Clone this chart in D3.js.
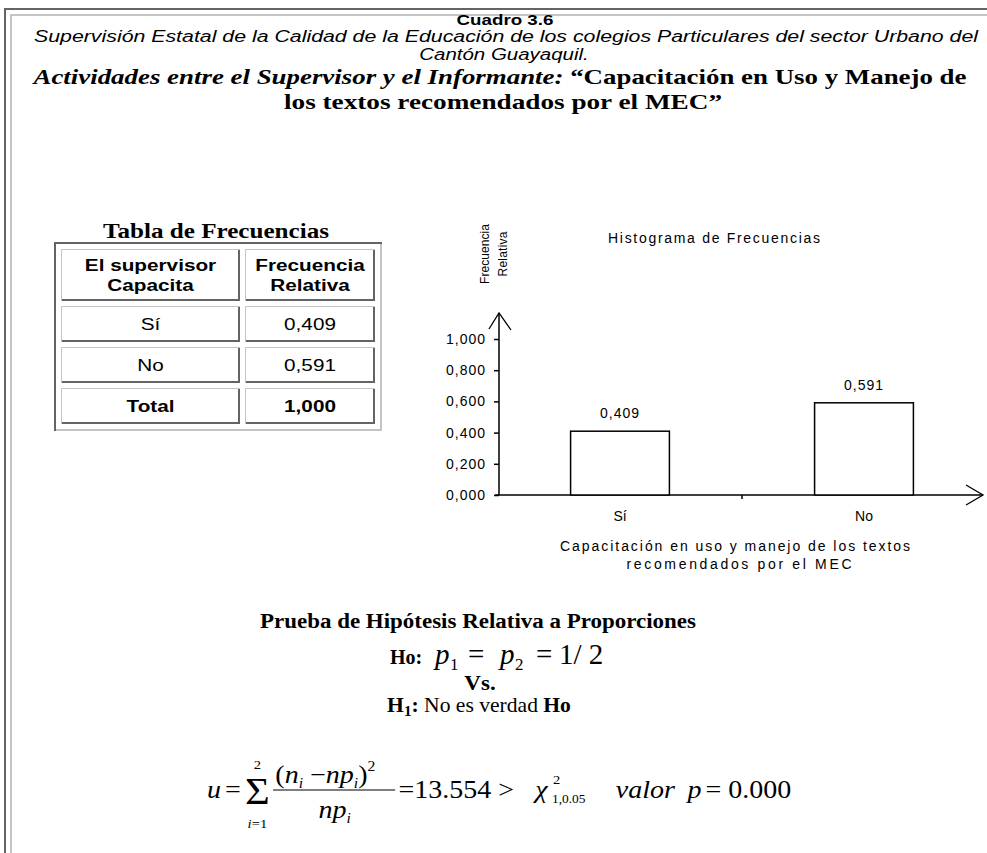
<!DOCTYPE html>
<html>
<head>
<meta charset="utf-8">
<script src="https://cdn.jsdelivr.net/npm/d3@7"></script>
<style>
  html, body { margin: 0; padding: 0; background: #fff; }
  svg { display: block; }
  .sans { font-family: "Liberation Sans", Arial, sans-serif; }
  .serif { font-family: "Liberation Serif", "Times New Roman", serif; }
</style>
</head>
<body>
<svg id="page" width="987" height="853"></svg>
<script>
// data
const categories = ["Sí", "No"];
const relFreq = [0.409, 0.591];
const totalFreq = 1.0;
const yTicks = [0, 0.2, 0.4, 0.6, 0.8, 1.0];
const headerLines = [["El supervisor", "Capacita"], ["Frecuencia", "Relativa"]];
const totalLabel = "Total";
const chartTitle = "Histograma de Frecuencias";
const yTitle = ["Frecuencia", "Relativa"];
const xTitle = ["Capacitación en uso y manejo de los textos", "recomendados por el MEC"];

const es = d3.formatLocale({decimal: ",", thousands: ".", grouping: [3], currency: ["", ""]});
const fmt = es.format(".3f");

const svg = d3.select("#page");
const dark = "#646464", light = "#c4c4c4";

// text that is wider than the font draws it (the source picture is stretched sideways)
function wide(parent, cls, x, y, size, k, anchor) {
  return parent.append("text").attr("class", cls)
      .attr("transform", `translate(${x},${y})scale(${k},1)`)
      .attr("text-anchor", anchor || "middle")
      .style("font-size", size + "px");
}

// page frame
svg.append("path").attr("d", "M5,853V9H987").attr("fill", "none").attr("stroke", dark).attr("stroke-width", 2);
svg.append("path").attr("d", "M11,853V15H987").attr("fill", "none").attr("stroke", light).attr("stroke-width", 2);

// ---- heading ----
wide(svg, "sans", 505, 25, 15, 1.25).style("font-weight", "bold").text("Cuadro 3.6");

svg.append("text").attr("class", "sans")
    .attr("x", 506).attr("y", 42)
    .attr("text-anchor", "middle")
    .attr("textLength", 944).attr("lengthAdjust", "spacingAndGlyphs")
    .style("font-size", "16px").style("font-style", "italic")
    .text("Supervisión Estatal de la Calidad de la Educación de los colegios Particulares del sector Urbano del");

wide(svg, "sans", 504, 60, 16, 1.28).style("font-style", "italic").text("Cantón Guayaquil.");

const act = svg.append("text").attr("class", "serif")
    .attr("x", 500).attr("y", 84)
    .attr("text-anchor", "middle")
    .attr("textLength", 933).attr("lengthAdjust", "spacingAndGlyphs")
    .style("font-size", "22px").style("font-weight", "bold");
act.append("tspan").style("font-style", "italic").text("Actividades entre el Supervisor y el Informante:");
act.append("tspan").text(" \u201cCapacitación en Uso y Manejo de");

svg.append("text").attr("class", "serif")
    .attr("x", 503).attr("y", 109)
    .attr("text-anchor", "middle")
    .attr("textLength", 438).attr("lengthAdjust", "spacingAndGlyphs")
    .style("font-size", "22px").style("font-weight", "bold")
    .text("los textos recomendados por el MEC\u201d");

// ---- frequency table ----
svg.append("text").attr("class", "serif")
    .attr("x", 216).attr("y", 238)
    .attr("text-anchor", "middle")
    .attr("textLength", 226).attr("lengthAdjust", "spacingAndGlyphs")
    .style("font-size", "21px").style("font-weight", "bold")
    .text("Tabla de Frecuencias");

const tbl = {x: 54, y: 242, border: 2, spacing: 5, colW: [179, 130], headH: 52, rowH: 36};
const rows = [
  {cells: headerLines, h: tbl.headH, bold: true},
  ...categories.map((c, i) => ({cells: [[c], [fmt(relFreq[i])]], h: tbl.rowH, bold: false})),
  {cells: [[totalLabel], [fmt(totalFreq)]], h: tbl.rowH, bold: true}
];
let yy = tbl.y + tbl.border + tbl.spacing;
rows.forEach(r => { r.y = yy; yy += r.h + tbl.spacing; });
const tblW = tbl.border * 2 + tbl.spacing * 3 + d3.sum(tbl.colW);
const tblH = yy + tbl.border - tbl.y;
const colX = [tbl.x + tbl.border + tbl.spacing];
colX.push(colX[0] + tbl.colW[0] + tbl.spacing);

const tg = svg.append("g");
tg.append("path").attr("fill", "none").attr("stroke", dark).attr("stroke-width", 2)
    .attr("d", `M${tbl.x + 1},${tbl.y + tblH}V${tbl.y + 1}H${tbl.x + tblW}`);
tg.append("path").attr("fill", "none").attr("stroke", light).attr("stroke-width", 2)
    .attr("d", `M${tbl.x + 2},${tbl.y + tblH - 1}H${tbl.x + tblW - 1}V${tbl.y + 2}`);

rows.forEach(r => {
  r.cells.forEach((lines, ci) => {
    const cx = colX[ci], w = tbl.colW[ci];
    tg.append("path").attr("fill", "none").attr("stroke", light).attr("stroke-width", 1)
        .attr("d", `M${cx + 0.5},${r.y + r.h}V${r.y + 0.5}H${cx + w}`);
    tg.append("path").attr("fill", "none").attr("stroke", dark).attr("stroke-width", 2)
        .attr("d", `M${cx + 1},${r.y + r.h - 1}H${cx + w - 1}V${r.y + 1}`);
    const lh = 20;
    const base = r.y + r.h / 2 + 6 - (lines.length - 1) * lh / 2;
    lines.forEach((s, li) => {
      wide(tg, "sans", cx + w / 2, base + li * lh, 17, 1.22)
          .style("font-weight", r.bold ? "bold" : "normal")
          .text(s);
    });
  });
});

// ---- histogram ----
const chartFont = g => g.attr("class", "sans").style("font-size", "14px");
const y = d3.scaleLinear().domain([0, 1]).range([495, 339]);
const x = d3.scaleBand().domain(categories).range([498, 986]).padding(0);
const barW = x.bandwidth() * 0.405;

const ch = svg.append("g");

ch.append("text").call(chartFont)
    .attr("x", 714).attr("y", 243).attr("text-anchor", "middle")
    .attr("textLength", 212).attr("lengthAdjust", "spacing")
    .text(chartTitle);

[[489, 60], [507, 45]].forEach(([tx, len], i) => {
  ch.append("text").attr("class", "sans").style("font-size", "12px")
      .attr("transform", `translate(${tx},254)rotate(-90)`)
      .attr("text-anchor", "middle")
      .attr("textLength", len).attr("lengthAdjust", "spacing")
      .text(yTitle[i]);
});

const yAxis = ch.append("g")
    .attr("transform", `translate(${x.range()[0] + 1},0)`)
    .call(d3.axisLeft(y).tickValues(yTicks).tickFormat(fmt).tickSize(5).tickPadding(8).tickSizeOuter(0));
yAxis.select(".domain").remove();
yAxis.selectAll("line").attr("stroke", "#000").attr("stroke-width", 1.5);
yAxis.selectAll("text").attr("class", "sans").attr("font-family", null)
    .style("font-size", "14px").style("letter-spacing", "1px");

const ax0 = x.range()[0] + 1;
const yTop = y.range()[1] - 26;
ch.append("line").attr("x1", ax0).attr("x2", ax0).attr("y1", y(0)).attr("y2", yTop)
    .attr("stroke", "#000").attr("stroke-width", 1.5);
ch.append("path").attr("fill", "none").attr("stroke", "#000").attr("stroke-width", 1.3)
    .attr("d", `M${ax0 - 10},${yTop + 16}L${ax0},${yTop}L${ax0 + 12},${yTop + 17}`);

const xEnd = x.range()[1] - 3;
ch.append("line").attr("x1", ax0 - 4).attr("x2", xEnd).attr("y1", y(0)).attr("y2", y(0))
    .attr("stroke", "#000").attr("stroke-width", 1.5);
ch.append("path").attr("fill", "none").attr("stroke", "#000").attr("stroke-width", 1.3)
    .attr("d", `M${xEnd - 17},${y(0) - 10}L${xEnd},${y(0)}L${xEnd - 17},${y(0) + 10}`);

ch.selectAll(".xtick").data(categories.slice(1)).join("line")
    .attr("class", "xtick")
    .attr("x1", d => x(d)).attr("x2", d => x(d))
    .attr("y1", y(0)).attr("y2", y(0) + 4)
    .attr("stroke", "#000").attr("stroke-width", 1.5);

const bars = categories.map((c, i) => ({c, v: relFreq[i]}));
ch.selectAll(".bar").data(bars).join("rect")
    .attr("class", "bar")
    .attr("x", d => x(d.c) + (x.bandwidth() - barW) / 2)
    .attr("y", d => y(d.v))
    .attr("width", barW)
    .attr("height", d => y(0) - y(d.v))
    .attr("fill", "#fff").attr("stroke", "#000").attr("stroke-width", 1.5);

ch.selectAll(".val").data(bars).join("text")
    .attr("class", "val").call(chartFont)
    .style("letter-spacing", "1px")
    .attr("x", d => x(d.c) + x.bandwidth() / 2)
    .attr("y", d => y(d.v) - 13)
    .attr("text-anchor", "middle")
    .text(d => fmt(d.v));

ch.selectAll(".cat").data(categories).join("text")
    .attr("class", "cat").call(chartFont)
    .attr("x", d => x(d) + x.bandwidth() / 2)
    .attr("y", 521)
    .attr("text-anchor", "middle")
    .text(d => d);

[[735, 551, 350], [739, 569, 225]].forEach(([tx, ty, len], i) => {
  ch.append("text").call(chartFont)
      .attr("x", tx).attr("y", ty).attr("text-anchor", "middle")
      .attr("textLength", len).attr("lengthAdjust", "spacing")
      .text(xTitle[i]);
});

// ---- hypothesis test ----
const cx = 478;
svg.append("text").attr("class", "serif")
    .attr("x", cx).attr("y", 628).attr("text-anchor", "middle")
    .attr("textLength", 436).attr("lengthAdjust", "spacingAndGlyphs")
    .style("font-size", "20px").style("font-weight", "bold")
    .text("Prueba de Hipótesis Relativa a Proporciones");

const ho = svg.append("text").attr("class", "serif").attr("y", 664).style("font-size", "29px");
ho.append("tspan").attr("x", 390).style("font-weight", "bold").style("font-size", "20px").text("Ho:");
ho.append("tspan").attr("x", 435).style("font-style", "italic").text("p");
ho.append("tspan").attr("x", 450).attr("dy", 6).style("font-size", "17px").text("1");
ho.append("tspan").attr("x", 468).attr("dy", -6).text("=");
ho.append("tspan").attr("x", 500).style("font-style", "italic").text("p");
ho.append("tspan").attr("x", 515).attr("dy", 6).style("font-size", "17px").text("2");
ho.append("tspan").attr("x", 536).attr("dy", -6).text("=");
ho.append("tspan").attr("x", 559).text("1/ 2");

wide(svg, "serif", 480, 690, 20, 1.15).style("font-weight", "bold").text("Vs.");

const h1 = wide(svg, "serif", 479, 712, 20, 1.08);
h1.append("tspan").style("font-weight", "bold").text("H");
h1.append("tspan").style("font-weight", "bold").style("font-size", "14px").attr("dy", 4).text("1");
h1.append("tspan").style("font-weight", "bold").attr("dy", -4).text(":");
h1.append("tspan").text(" No es verdad ");
h1.append("tspan").style("font-weight", "bold").text("Ho");

// formula, drawn in unstretched units then widened about the "u"
const fb = 798, u0 = 207;
const f = svg.append("g").attr("class", "serif")
    .attr("transform", `translate(${u0},0)scale(1.12,1)translate(${-u0},0)`);
f.append("text").attr("x", u0).attr("y", fb).style("font-size", "25px").style("font-style", "italic").text("u");
f.append("text").attr("x", 223).attr("y", fb).style("font-size", "25px").text("=");
f.append("text").attr("x", 252).attr("y", fb + 6).attr("text-anchor", "middle").style("font-size", "38px").text("\u03a3");
f.append("text").attr("x", 252).attr("y", 769).attr("text-anchor", "middle").style("font-size", "13px").text("2");
const lim = f.append("text").attr("x", 252).attr("y", 828).attr("text-anchor", "middle").style("font-size", "13px");
lim.append("tspan").style("font-style", "italic").text("i");
lim.append("tspan").text("=1");

const num = f.append("text").attr("x", 268).attr("y", 783).style("font-size", "25px");
num.append("tspan").text("(");
num.append("tspan").style("font-style", "italic").text("n");
num.append("tspan").style("font-style", "italic").style("font-size", "14px").attr("dy", 5).text("i");
num.append("tspan").attr("dy", -5).text(" \u2212");
num.append("tspan").style("font-style", "italic").text("np");
num.append("tspan").style("font-style", "italic").style("font-size", "14px").attr("dy", 5).text("i");
num.append("tspan").attr("dy", -5).text(")");
num.append("tspan").style("font-size", "14px").attr("dy", -12).text("2");
f.append("line").attr("x1", 266).attr("x2", 375).attr("y1", fb - 8).attr("y2", fb - 8)
    .attr("stroke", "#000").attr("stroke-width", 1.2);
const den = f.append("text").attr("x", 321).attr("y", 818).attr("text-anchor", "middle").style("font-size", "25px");
den.append("tspan").style("font-style", "italic").text("np");
den.append("tspan").style("font-style", "italic").style("font-size", "14px").attr("dy", 5).text("i");

f.append("text").attr("x", 378).attr("y", fb).style("font-size", "25px").text("=13.554 >");
f.append("text").attr("x", 500).attr("y", fb).style("font-size", "25px").style("font-style", "italic").text("\u03c7");
f.append("text").attr("x", 516).attr("y", fb - 14).style("font-size", "13px").text("2");
f.append("text").attr("x", 515).attr("y", fb + 5).style("font-size", "12px").text("1,0.05");
f.append("text").attr("x", 572).attr("y", fb).style("font-size", "25px").style("font-style", "italic").text("valor");
f.append("text").attr("x", 636).attr("y", fb).style("font-size", "25px").style("font-style", "italic").text("p");
f.append("text").attr("x", 652).attr("y", fb).style("font-size", "25px").text("= 0.000");
</script>
</body>
</html>
